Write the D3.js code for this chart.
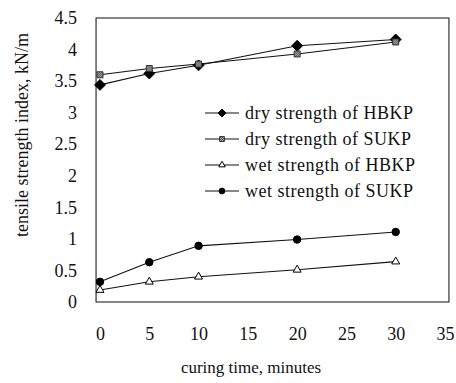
<!DOCTYPE html>
<html><head><meta charset="utf-8">
<script src="https://cdn.jsdelivr.net/npm/d3@7"></script>
<style>body{margin:0;background:#fff}svg{display:block}text{font-family:"Liberation Serif","Times New Roman",serif;fill:#111}</style>
</head><body><svg id="c" width="456" height="383"></svg>
<script>
const times = [0, 5, 10, 20, 30];
const dryHBKP = [3.44, 3.62, 3.75, 4.06, 4.16];
const drySUKP = [3.60, 3.70, 3.77, 3.93, 4.12];
const wetHBKP = [0.19, 0.32, 0.40, 0.51, 0.64];
const wetSUKP = [0.32, 0.63, 0.89, 0.99, 1.11];
const seriesNames = ["dry strength of HBKP","dry strength of SUKP","wet strength of HBKP","wet strength of SUKP"];
const xTicks = [0,5,10,15,20,25,30,35];
const yTicks = [0,0.5,1,1.5,2,2.5,3,3.5,4,4.5];
const yTickLabels = ["0","0.5","1","1.5","2","2.5","3","3.5","4","4.5"];

const svg = d3.select("#c");
const x = d3.scaleLinear().domain([0,35]).range([100,445]);
const y = d3.scaleLinear().domain([0,4.5]).range([302,18]);
const L = x(-0.4), R = x(35.4), T = y(4.5), B = y(0);

svg.append("rect").attr("x",L).attr("y",T).attr("width",R-L).attr("height",B-T)
  .attr("fill","none").attr("stroke","#333").attr("stroke-width",1.2);

const ya = svg.append("g").attr("transform",`translate(${L-16},0)`)
  .call(d3.axisLeft(y).tickValues(yTicks).tickSize(0).tickFormat((d,i)=>yTickLabels[i]));
ya.select(".domain").remove();
ya.selectAll("text").attr("font-size",18).attr("fill","#111");

const xa = svg.append("g").attr("transform",`translate(0,${B+22})`)
  .call(d3.axisBottom(x).tickValues(xTicks).tickSize(0));
xa.select(".domain").remove();
xa.selectAll("text").attr("font-size",18).attr("fill","#111");

svg.append("text").attr("x",251).attr("y",373).attr("text-anchor","middle").attr("font-size",17).text("curing time, minutes");
svg.append("text").attr("transform","translate(28,135) rotate(-90)").attr("text-anchor","middle").attr("font-size",18).text("tensile strength index, kN/m");

const defs = svg.append("defs");
const pat = defs.append("pattern").attr("id","chk").attr("width",2).attr("height",2).attr("patternUnits","userSpaceOnUse");
pat.append("rect").attr("width",2).attr("height",2).attr("fill","#aaa");
pat.append("rect").attr("width",1).attr("height",1).attr("fill","#555");
pat.append("rect").attr("x",1).attr("y",1).attr("width",1).attr("height",1).attr("fill","#555");

const series = [
  {vals:dryHBKP, sym:d3.symbolDiamond2, size:75, lsize:40, fill:"#000", stroke:"#000"},
  {vals:drySUKP, sym:d3.symbolSquare2, size:46, lsize:30, fill:"url(#chk)", stroke:"#333"},
  {vals:wetHBKP, sym:d3.symbolTriangle2, size:46, lsize:30, fill:"#fff", stroke:"#000"},
  {vals:wetSUKP, sym:d3.symbolCircle, size:44, lsize:26, fill:"#000", stroke:"#000"}
];
const line = d3.line().x(d=>x(d[0])).y(d=>y(d[1]));
series.forEach(s=>{
  const pts = times.map((t,i)=>[t,s.vals[i]]);
  svg.append("path").attr("d",line(pts)).attr("fill","none").attr("stroke","#111").attr("stroke-width",1.1);
});
series.forEach(s=>{
  const pts = times.map((t,i)=>[t,s.vals[i]]);
  svg.selectAll(null).data(pts).enter().append("path")
    .attr("transform",d=>`translate(${x(d[0])},${y(d[1])})`)
    .attr("d",d3.symbol(s.sym,s.size)).attr("fill",s.fill).attr("stroke",s.stroke).attr("stroke-width",1);
});

const lg = svg.append("g");
seriesNames.forEach((n,i)=>{
  const yy = 113 + i*26;
  const s = series[i];
  lg.append("line").attr("x1",205).attr("x2",239).attr("y1",yy).attr("y2",yy).attr("stroke","#111").attr("stroke-width",1.1);
  lg.append("path").attr("transform",`translate(222,${yy})`).attr("d",d3.symbol(s.sym,s.lsize))
    .attr("fill",s.fill).attr("stroke",s.stroke).attr("stroke-width",1);
  lg.append("text").attr("x",245).attr("y",yy+6).attr("font-size",18).attr("letter-spacing",0.5).text(n);
});
</script></body></html>
